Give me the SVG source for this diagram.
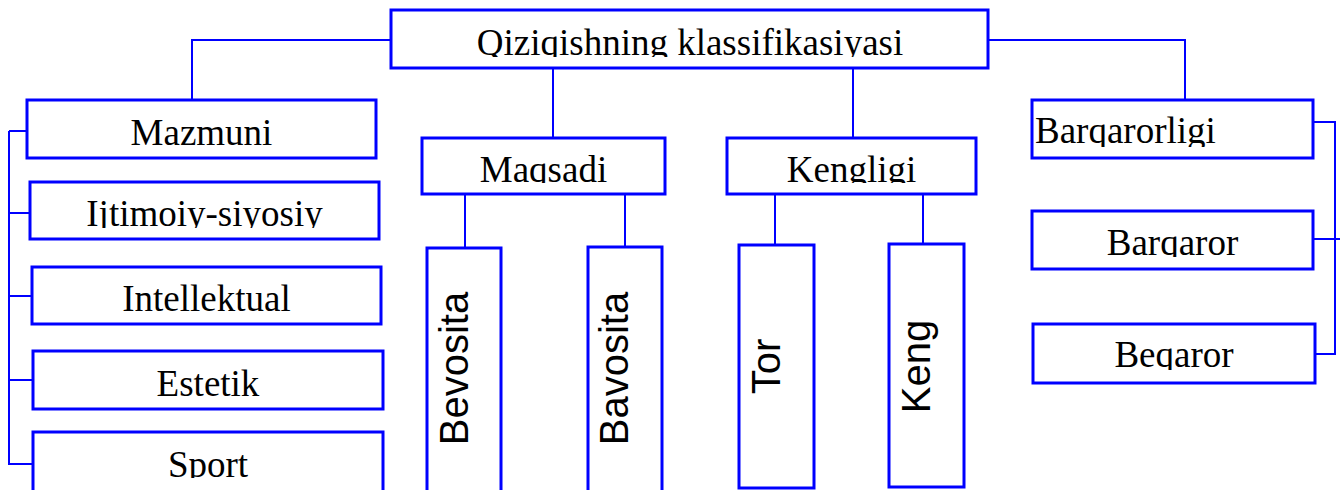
<svg xmlns="http://www.w3.org/2000/svg" width="1341" height="490" viewBox="0 0 1341 490">
<style>
.box{fill:#fff;stroke:#0000ff;stroke-width:3}
.ln{stroke:#0000ff;stroke-width:2;fill:none}
.t{font-family:"Liberation Serif","Times New Roman",serif;font-size:37px;fill:#000;text-anchor:middle}
.v{font-family:"Liberation Sans",Arial,sans-serif;font-size:40px;fill:#000;text-anchor:middle}
</style>
<defs>
<clipPath id="c0"><rect x="391" y="10" width="597" height="47"/></clipPath>
<clipPath id="c2"><rect x="30" y="182" width="349" height="46"/></clipPath>
<clipPath id="c5"><rect x="33" y="432" width="350" height="46"/></clipPath>
<clipPath id="c6"><rect x="422" y="138" width="554" height="45"/></clipPath>
<clipPath id="c7"><rect x="1032" y="100" width="281" height="47"/></clipPath>
<clipPath id="c8"><rect x="1032" y="211" width="281" height="46"/></clipPath>
<clipPath id="c9"><rect x="1033" y="324" width="282" height="46"/></clipPath>
</defs>
<rect width="1341" height="490" fill="#fff"/>
<g id="connectors">
<polyline class="ln" points="391,40 192,40 192,100"/>
<polyline class="ln" points="988,40 1185,40 1185,100"/>
<line class="ln" x1="553" y1="68" x2="553" y2="138"/>
<line class="ln" x1="853" y1="68" x2="853" y2="138"/>
<line class="ln" x1="9" y1="131" x2="9" y2="465"/>
<line class="ln" x1="9" y1="131" x2="31" y2="131"/>
<line class="ln" x1="9" y1="213" x2="33" y2="213"/>
<line class="ln" x1="9" y1="296" x2="33" y2="296"/>
<line class="ln" x1="9" y1="380" x2="34" y2="380"/>
<line class="ln" x1="9" y1="464" x2="34" y2="464"/>
<line class="ln" x1="465" y1="193" x2="465" y2="248"/>
<line class="ln" x1="625" y1="192" x2="625" y2="247"/>
<line class="ln" x1="775" y1="193" x2="775" y2="245"/>
<line class="ln" x1="923" y1="192" x2="923" y2="244"/>
<line class="ln" x1="1335" y1="122" x2="1335" y2="354"/>
<line class="ln" x1="1313" y1="122" x2="1336" y2="122"/>
<line class="ln" x1="1313" y1="239" x2="1340" y2="239"/>
<line class="ln" x1="1311" y1="354" x2="1336" y2="354"/>
</g>
<g id="root"><rect class="box" x="391" y="10" width="597" height="58"/><text class="t" x="690" y="55" clip-path="url(#c0)">Qiziqishning klassifikasiyasi</text></g>
<g id="mazmuni"><rect class="box" x="27" y="100" width="349" height="58"/><text class="t" x="201.5" y="145">Mazmuni</text></g>
<g id="ijtimoiy"><rect class="box" x="30" y="182" width="349" height="57"/><text class="t" x="204.5" y="226" clip-path="url(#c2)">Ijtimoiy-siyosiy</text></g>
<g id="intellektual"><rect class="box" x="32" y="267" width="349" height="57"/><text class="t" x="206.5" y="311">Intellektual</text></g>
<g id="estetik"><rect class="box" x="33" y="351" width="350" height="58"/><text class="t" x="208" y="396">Estetik</text></g>
<g id="sport"><rect class="box" x="33" y="432" width="350" height="62"/><text class="t" x="208" y="477" clip-path="url(#c5)">Sport</text></g>
<g id="maqsadi"><rect class="box" x="422" y="138" width="243" height="56"/><text class="t" x="543.5" y="182" clip-path="url(#c6)">Maqsadi</text></g>
<g id="kengligi"><rect class="box" x="727" y="138" width="249" height="56"/><text class="t" x="851.5" y="182" clip-path="url(#c6)">Kengligi</text></g>
<g id="bevosita"><rect class="box" x="427" y="248" width="74" height="246"/><text class="v" transform="translate(468,368.5) rotate(-90)">Bevosita</text></g>
<g id="bavosita"><rect class="box" x="588" y="247" width="74" height="247"/><text class="v" transform="translate(628,368.5) rotate(-90)">Bavosita</text></g>
<g id="tor"><rect class="box" x="739" y="245" width="75" height="243"/><text class="v" transform="translate(780,366.5) rotate(-90)">Tor</text></g>
<g id="keng"><rect class="box" x="889" y="244" width="75" height="243"/><text class="v" transform="translate(930,366.5) rotate(-90)">Keng</text></g>
<g id="barqarorligi"><rect class="box" x="1032" y="100" width="281" height="58"/><text class="t" x="1035" y="143" style="text-anchor:start" clip-path="url(#c7)">Barqarorligi</text></g>
<g id="barqaror"><rect class="box" x="1032" y="211" width="281" height="58"/><text class="t" x="1172.5" y="255" clip-path="url(#c8)">Barqaror</text></g>
<g id="beqaror"><rect class="box" x="1033" y="324" width="282" height="59"/><text class="t" x="1174" y="367" clip-path="url(#c9)">Beqaror</text></g>
</svg>
